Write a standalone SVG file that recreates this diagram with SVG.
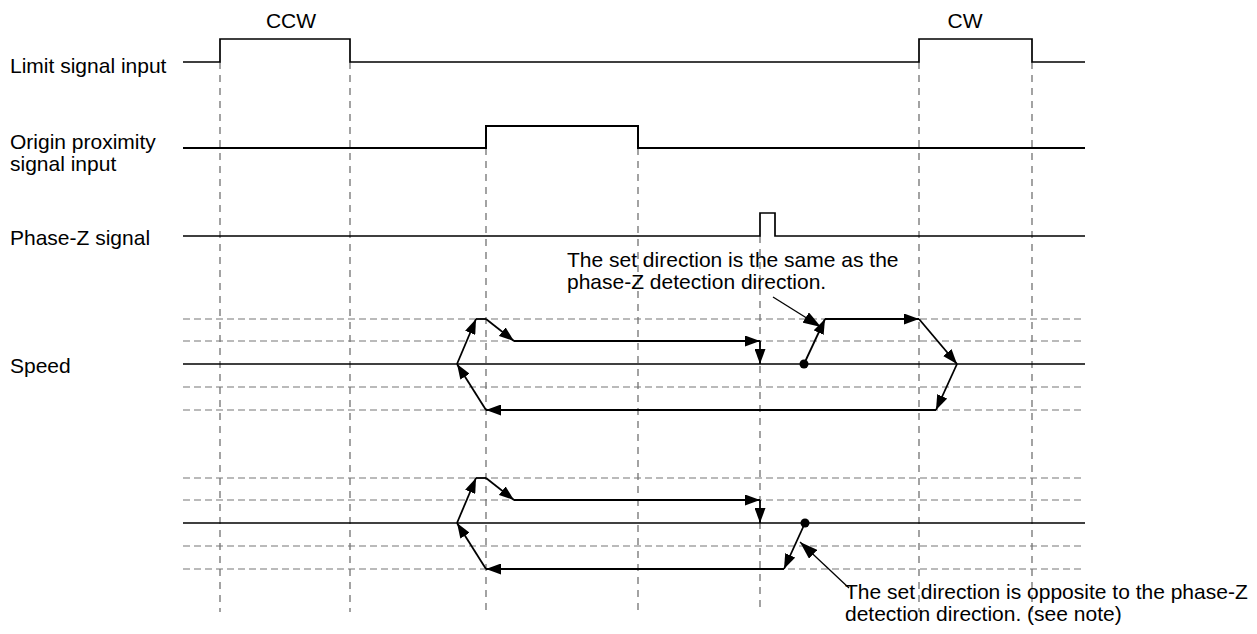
<svg xmlns="http://www.w3.org/2000/svg" width="1257" height="634" viewBox="0 0 1257 634">
<defs>
<style>
text{font-family:"Liberation Sans",Arial,sans-serif;font-size:21px;fill:#000}
.sig{fill:none;stroke:#000;stroke-width:1.7}
.zero{fill:none;stroke:#000;stroke-width:1.5}
.hd{fill:none;stroke:#777;stroke-width:1.2;stroke-dasharray:7 4}
.vd{fill:none;stroke:#666;stroke-width:1.2;stroke-dasharray:7 6}
.sp{fill:none;stroke:#000;stroke-width:1.8}
.ar{marker-end:url(#ah)}
.ld{fill:none;stroke:#000;stroke-width:1.3;marker-end:url(#ah2)}
</style>
<marker id="ah" markerUnits="userSpaceOnUse" viewBox="0 0 15 11" refX="15" refY="5.5" markerWidth="15" markerHeight="11" orient="auto"><path d="M0,0 L15,5.5 L0,11 z" fill="#000"/></marker>
<marker id="ah2" markerUnits="userSpaceOnUse" viewBox="0 0 18 12" refX="18" refY="6" markerWidth="18" markerHeight="12" orient="auto"><path d="M0,0 L18,6 L0,12 z" fill="#000"/></marker>
</defs>
<rect width="1257" height="634" fill="#fff"/>

<g id="grid">
<path class="vd" d="M220,62 V612 M350,62 V612 M486,148 V612 M638,148 V612 M760,236 V612 M919,62 V612 M1032,62 V612"/>
<path class="hd" d="M183,319 H1085 M183,341 H1085 M183,387 H1085 M183,410 H1085"/>
<path class="hd" d="M183,478 H1085 M183,500 H1085 M183,546 H1085 M183,569 H1085"/>
</g>

<g id="limit-signal">
<text x="10" y="73">Limit signal input</text>
<path class="sig" d="M183,62 H220 V39 H350 V62 H919 V39 H1032 V62 H1085"/>
<text x="291" y="28" text-anchor="middle">CCW</text>
<text x="965" y="28" text-anchor="middle">CW</text>
</g>

<g id="origin-proximity">
<text x="10" y="149">Origin proximity</text>
<text x="10" y="171">signal input</text>
<path class="sig" d="M183,148 H486 V126 H638 V148 H1085" style="stroke-width:2"/>
</g>

<g id="phase-z">
<text x="10" y="245">Phase-Z signal</text>
<path class="sig" d="M183,236 H760 V213 H775 V236 H1085"/>
</g>

<g id="speed-1">
<text x="10" y="373">Speed</text>
<path class="zero" d="M183,364 H1085"/>
<circle cx="804" cy="364" r="4.5" fill="#000"/>
</g>

<g id="speed-2">
<path class="zero" d="M183,523 H1085"/>
<circle cx="805" cy="523" r="4.5" fill="#000"/>
</g>

<g id="note-same">
<text x="567" y="267">The set direction is the same as the</text>
<text x="567" y="289">phase-Z detection direction.</text>
</g>

<g id="note-opposite">
<text x="845" y="599">The set direction is opposite to the phase-Z</text>
<text x="845" y="621">detection direction. (see note)</text>
</g>

<g id="connectors">
<path class="sp ar" d="M486,410 L457,364"/>
<path class="sp ar" d="M457,364 L476,319"/>
<path class="sp" d="M476,319 H486"/>
<path class="sp ar" d="M486,319 L514,341"/>
<path class="sp ar" d="M514,341 H760"/>
<path class="sp ar" d="M760,341 V364"/>
<path class="sp ar" d="M804,364 L825,319"/>
<path class="sp ar" d="M825,319 H919"/>
<path class="sp ar" d="M919,319 L957,364"/>
<path class="sp ar" d="M957,364 L936,410"/>
<path class="sp ar" d="M936,410 H486"/>

<path class="sp ar" d="M486,569 L457,523"/>
<path class="sp ar" d="M457,523 L476,478"/>
<path class="sp" d="M476,478 H486"/>
<path class="sp ar" d="M486,478 L514,500"/>
<path class="sp ar" d="M514,500 H760"/>
<path class="sp ar" d="M760,500 V523"/>
<path class="sp ar" d="M805,523 L784,569"/>
<path class="sp ar" d="M784,569 H486"/>

<path class="ld" d="M773,297 L821,327"/>
<path class="ld" d="M849,588 L800,542"/>
</g>
</svg>
